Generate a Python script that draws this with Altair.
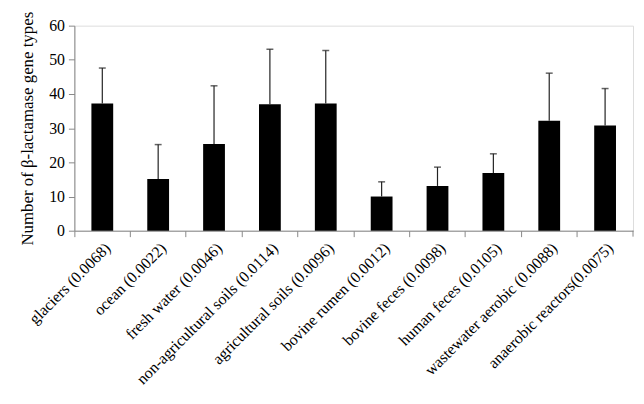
import altair as alt
import pandas as pd

categories = ["glaciers (0.0068)", "ocean (0.0022)", "fresh water (0.0046)",
              "non-agricultural soils (0.0114)", "agricultural soils (0.0096)",
              "bovine rumen (0.0012)", "bovine feces (0.0098)", "human feces (0.0105)",
              "wastewater aerobic (0.0088)", "anaerobic reactors(0.0075)"]
means = [37.2, 15.1, 25.4, 37.0, 37.2, 10.0, 13.1, 16.9, 32.2, 30.8]
errors = [10.4, 10.1, 17.0, 16.1, 15.5, 4.3, 5.5, 5.6, 13.9, 10.8]
y_ticks = [0, 10, 20, 30, 40, 50, 60]

df = pd.DataFrame({"cat": categories, "mean": means, "err": errors})
df["top"] = df["mean"] + df["err"]

W, H = 564, 207
FONT = "Liberation Serif"
TITLE = "Number of β-lactamase gene types"

x = alt.X("cat:N", sort=categories, title=None,
          scale=alt.Scale(paddingInner=0, paddingOuter=0),
          axis=alt.Axis(labelAngle=-45, labelAlign="right", labelBaseline="top",
                        labelFontSize=16, labelFont=FONT, labelColor="black",
                        bandPosition=0, tickSize=6, tickColor="#888888",
                        domainColor="#888888", labelPadding=3, labelLimit=400))


def yenc(field):
    return alt.Y(field, title=TITLE, scale=alt.Scale(domain=[0, 60]),
                 axis=alt.Axis(values=y_ticks, grid=False, labelOverlap=False,
                               labelFontSize=16, labelFont=FONT, labelColor="black",
                               titleFontSize=17, titleFont=FONT, titleFontWeight="normal",
                               titleColor="black", tickSize=6, tickColor="#888888",
                               domainColor="#888888", titlePadding=12, labelPadding=4))


base = alt.Chart(df)
bars = base.mark_bar(size=22, color="black").encode(x=x, y=yenc("mean:Q"))
err = base.mark_rule(color="#222222", strokeWidth=1.2).encode(
    x=x, y=yenc("mean:Q"), y2="top:Q")
cap = base.mark_tick(color="#222222", size=7, thickness=1.5).encode(
    x=x, y=yenc("top:Q"))
endtick = alt.Chart(pd.DataFrame({"v": [0]})).mark_rule(color="#888888").encode(
    x=alt.value(W), y=alt.value(H), y2=alt.value(H + 6))

chart = (bars + err + cap + endtick).properties(
    width=W, height=H, padding={"left": 10, "top": 1, "right": 2, "bottom": 2}
).configure_view(stroke=None).configure(background="white")

chart.save("out.html", embed_options={"renderer": "svg", "actions": False})
